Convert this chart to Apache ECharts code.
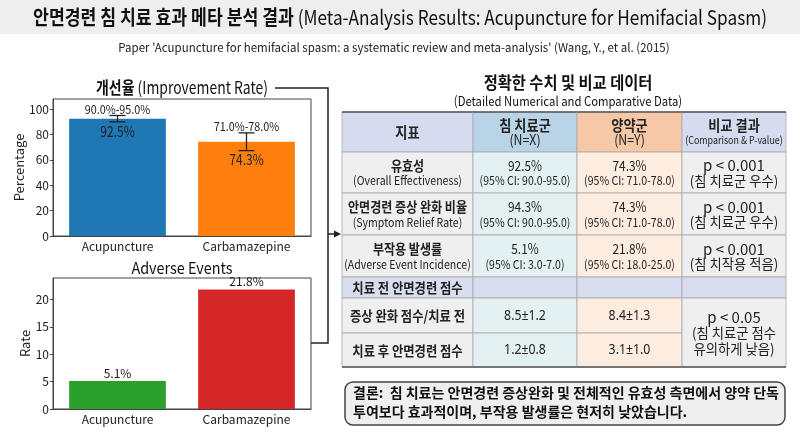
<!DOCTYPE html>
<html><head><meta charset="utf-8">
<script src="https://cdn.jsdelivr.net/npm/echarts@6/dist/echarts.min.js"></script>
<style>html,body{margin:0;padding:0;background:#fff}#c{width:800px;height:436px}</style>
</head><body><div id="c"></div>
<script>
const FONT = '"Noto Sans CJK KR", "Noto Sans", sans-serif';
const FONT_LATIN = '"Noto Sans", "Noto Sans CJK KR", sans-serif';

// ---- chart data ----
const categories = ['Acupuncture', 'Carbamazepine'];
const improvementRate = [92.5, 74.3];
const improvementErrLow = [90.0, 67.3];
const improvementErrHigh = [95.0, 81.3];
const improvementCILabels = ['90.0%-95.0%', '71.0%-78.0%'];
const adverseRate = [5.1, 21.8];
const improvementTicks = [0, 20, 40, 60, 80, 100];
const adverseTicks = [0, 5, 10, 15, 20];

// ---- table data ----
const tableHeaders = [['지표'], ['침 치료군', '(N=X)'], ['양약군', '(N=Y)'], ['비교 결과', '(Comparison & P-value)']];
const rowMetrics = [['유효성', '(Overall Effectiveness)'], ['안면경련 증상 완화 비율', '(Symptom Relief Rate)'], ['부작용 발생률', '(Adverse Event Incidence)']];
const acuValues = ['92.5%', '94.3%', '5.1%'];
const acuCI = ['(95% CI: 90.0-95.0)', '(95% CI: 90.0-95.0)', '(95% CI: 3.0-7.0)'];
const carbValues = ['74.3%', '74.3%', '21.8%'];
const carbCI = ['(95% CI: 71.0-78.0)', '(95% CI: 71.0-78.0)', '(95% CI: 18.0-25.0)'];
const pValues = ['p < 0.001', 'p < 0.001', 'p < 0.001'];
const pNotes = ['(침 치료군 우수)', '(침 치료군 우수)', '(침 치작용 적음)'];
const sectionTitle = '치료 전 안면경련 점수';
const scoreLabels = ['증상 완화 점수/치료 전', '치료 후 안면경련 점수'];
const acuScores = ['8.5±1.2', '1.2±0.8'];
const carbScores = ['8.4±1.3', '3.1±1.0'];
const scoreComparison = ['p < 0.05', '(침 치료군 점수', '유의하게 낮음)'];
const conclusionLines = ['결론:  침 치료는 안면경련 증상완화 및 전체적인 유효성 측면에서 양약 단독', '투여보다 효과적이며, 부작용 발생률은 현저히 낮았습니다.'];

// ---- table layout (axis units of the table grid) ----
const COL = [0, 131, 235, 340, 444];
const ROW = [0, 40, 81, 123, 165, 186, 221, 255];
const headFill = ['#d6dcef', '#b9d4e6', '#f6c8a8', '#d6dcef'];
const bodyFill = ['#efefef', '#e3f1f2', '#fdece0', '#efefef'];
const sectionFill = '#d8def0';

const T = (text, size, bold, scale, font) => ({text, size, bold: !!bold, scale: scale || 0.85, font: font || FONT});
const cells = [];
tableHeaders.forEach((h, c) => {
  cells.push({c, r0: 0, r1: 1, fill: headFill[c],
    lines: h.map((t, k) => k === 0 ? T(t, 15, true, 0.88) : (c === 3 ? T(t, 10.5) : T(t, 14, false, 0.88)))});
});
for (let i = 0; i < 3; i++) {
  cells.push({c: 0, r0: i + 1, r1: i + 2, fill: bodyFill[0], lines: [T(rowMetrics[i][0], 14, true, 0.86), T(rowMetrics[i][1], 12, false, 0.88)]});
  cells.push({c: 1, r0: i + 1, r1: i + 2, fill: bodyFill[1], lines: [T(acuValues[i], 14), T(acuCI[i], 12, false, 0.88)]});
  cells.push({c: 2, r0: i + 1, r1: i + 2, fill: bodyFill[2], lines: [T(carbValues[i], 14), T(carbCI[i], 12, false, 0.88)]});
  cells.push({c: 3, r0: i + 1, r1: i + 2, fill: bodyFill[3], lines: [T(pValues[i], 15, false, 1), T(pNotes[i], 14, false, 0.95)]});
}
cells.push({c: 0, r0: 4, r1: 5, fill: sectionFill, lines: [T(sectionTitle, 14, true, 0.88)]});
for (let c = 1; c < 4; c++) cells.push({c, r0: 4, r1: 5, fill: sectionFill, lines: []});
for (let j = 0; j < 2; j++) {
  cells.push({c: 0, r0: 5 + j, r1: 6 + j, fill: bodyFill[0], lines: [T(scoreLabels[j], 14, true, 0.88)]});
  cells.push({c: 1, r0: 5 + j, r1: 6 + j, fill: bodyFill[1], lines: [T(acuScores[j], 14, false, 0.88, FONT_LATIN)]});
  cells.push({c: 2, r0: 5 + j, r1: 6 + j, fill: bodyFill[2], lines: [T(carbScores[j], 14, false, 0.88, FONT_LATIN)]});
}
cells.push({c: 3, r0: 5, r1: 7, fill: bodyFill[3], lines: [T(scoreComparison[0], 15, false, 1), T(scoreComparison[1], 14, false, 0.95), T(scoreComparison[2], 14, false, 0.95)]});

const chart = echarts.init(document.getElementById('c'));

const axisText = {color: '#222', fontFamily: FONT, fontSize: 12};
const axisLine = {show: true, lineStyle: {color: '#444', width: 1}};

function txt(x, y, text, size, opts) {
  opts = opts || {};
  return {type: 'text', x, y, scaleX: opts.scaleX || 1, z: 10,
    style: {text, fontSize: size, fontWeight: opts.bold ? 'bold' : 'normal', fontFamily: FONT,
      fill: opts.color || '#222', align: opts.align || 'center', verticalAlign: 'middle', rich: opts.rich}};
}

const option = {
  animation: false,
  backgroundColor: '#fff',
  grid: [
    {left: 53, right: 489, top: 99, bottom: 200, show: true, borderColor: '#444', borderWidth: 1, backgroundColor: 'transparent'},
    {left: 53, right: 489, top: 278, bottom: 27, show: true, borderColor: '#444', borderWidth: 1, backgroundColor: 'transparent'},
    {left: 342, top: 112, width: 444, height: 255, show: false}
  ],
  xAxis: [
    {type: 'category', gridIndex: 0, data: categories, axisLine, axisTick: {alignWithLabel: true, length: 3, lineStyle: {color: '#444'}}, axisLabel: Object.assign({margin: 4}, axisText)},
    {type: 'category', gridIndex: 1, data: categories, axisLine, axisTick: {alignWithLabel: true, length: 3, lineStyle: {color: '#444'}}, axisLabel: Object.assign({margin: 4}, axisText)},
    {type: 'value', gridIndex: 2, min: 0, max: COL[COL.length - 1], show: false}
  ],
  yAxis: [
    {type: 'value', gridIndex: 0, min: 0, max: 108, splitLine: {show: false}, axisLine,
      axisTick: {show: true, length: 3, customValues: improvementTicks, lineStyle: {color: '#444'}},
      axisLabel: Object.assign({margin: 4, customValues: improvementTicks}, axisText),
      name: 'Percentage', nameLocation: 'middle', nameGap: 21, nameTextStyle: {fontFamily: FONT, fontSize: 13, color: '#222'}},
    {type: 'value', gridIndex: 1, min: 0, max: 23.9, splitLine: {show: false}, axisLine,
      axisTick: {show: true, length: 3, customValues: adverseTicks, lineStyle: {color: '#444'}},
      axisLabel: Object.assign({margin: 4, customValues: adverseTicks}, axisText),
      name: 'Rate', nameLocation: 'middle', nameGap: 15, nameTextStyle: {fontFamily: FONT, fontSize: 13, color: '#222'}},
    {type: 'value', gridIndex: 2, min: 0, max: ROW[ROW.length - 1], inverse: true, show: false}
  ],
  series: [
    {type: 'bar', xAxisIndex: 0, yAxisIndex: 0, barWidth: '75%',
      data: improvementRate.map((v, i) => ({value: v, itemStyle: {color: ['#1f77b4', '#ff7f0e'][i]}}))},
    {type: 'custom', xAxisIndex: 0, yAxisIndex: 0, z: 5,
      data: categories.map((c, i) => [i, improvementErrLow[i], improvementErrHigh[i]]),
      encode: {x: 0, y: [1, 2]},
      renderItem: function (params, api) {
        const i = params.dataIndex;
        const hi = api.coord([api.value(0), api.value(2)]);
        const lo = api.coord([api.value(0), api.value(1)]);
        const x = hi[0], cap = 8, st = {stroke: '#222', lineWidth: 1.3};
        return {type: 'group', children: [
          {type: 'line', shape: {x1: x, y1: hi[1], x2: x, y2: lo[1]}, style: st},
          {type: 'line', shape: {x1: x - cap, y1: hi[1], x2: x + cap, y2: hi[1]}, style: st},
          {type: 'line', shape: {x1: x - cap, y1: lo[1], x2: x + cap, y2: lo[1]}, style: st},
          {type: 'text', x: x, y: hi[1] - 6, scaleX: 0.9, style: {text: improvementCILabels[i], fontSize: 12, fontFamily: FONT, fill: '#222', align: 'center', verticalAlign: 'middle'}},
          {type: 'text', x: x, y: lo[1] + 9, scaleX: 0.8, style: {text: improvementRate[i].toFixed(1) + '%', fontSize: 15, fontFamily: FONT, fill: '#222', align: 'center', verticalAlign: 'middle'}}
        ]};
      }},
    {type: 'bar', xAxisIndex: 1, yAxisIndex: 1, barWidth: '75%',
      label: {show: true, position: 'top', distance: 2, formatter: '{c}%', fontSize: 12, fontFamily: FONT, color: '#222'},
      data: adverseRate.map((v, i) => ({value: v, itemStyle: {color: ['#2ca02c', '#d62728'][i]}}))},
    {type: 'custom', xAxisIndex: 2, yAxisIndex: 2, clip: false,
      data: cells.map((cell, k) => [COL[cell.c], ROW[cell.r0], COL[cell.c + 1], ROW[cell.r1], k]),
      encode: {x: [0, 2], y: [1, 3]},
      renderItem: function (params, api) {
        const cell = cells[params.dataIndex];
        const p0 = api.coord([api.value(0), api.value(1)]);
        const p1 = api.coord([api.value(2), api.value(3)]);
        const children = [{type: 'rect', shape: {x: p0[0], y: p0[1], width: p1[0] - p0[0], height: p1[1] - p0[1]},
          style: {fill: cell.fill, stroke: '#a8a8a8', lineWidth: 0.8}}];
        if (cell.r0 === 0) children.push({type: 'line', shape: {x1: p0[0], y1: p0[1], x2: p1[0], y2: p0[1]}, style: {stroke: '#555', lineWidth: 1.6}});
        if (cell.r1 === ROW.length - 1) children.push({type: 'line', shape: {x1: p0[0], y1: p1[1], x2: p1[0], y2: p1[1]}, style: {stroke: '#555', lineWidth: 1.6}});
        const n = cell.lines.length, gap = n === 3 ? 16 : 15;
        const cx = (p0[0] + p1[0]) / 2, cy = (p0[1] + p1[1]) / 2;
        cell.lines.forEach((ln, k) => {
          children.push({type: 'text', x: cx, y: cy + (k - (n - 1) / 2) * gap + 0.5, scaleX: ln.scale,
            style: {text: ln.text, fontSize: ln.size, fontWeight: ln.bold ? 'bold' : 'normal', fontFamily: ln.font, fill: '#222', align: 'center', verticalAlign: 'middle'}});
        });
        return {type: 'group', children};
      }}
  ],
  graphic: {elements: [
    {type: 'rect', shape: {x: 0, y: 0, width: 800, height: 34}, style: {fill: '#eeeeee'}, z: 1},
    txt(400, 17, '{k|안면경련 침 치료 효과 메타 분석 결과} {e|(Meta-Analysis Results: Acupuncture for Hemifacial Spasm)}', 20,
      {scaleX: 0.86, rich: {k: {fontSize: 20, fontWeight: 'bold', fontFamily: FONT, fill: '#111'}, e: {fontSize: 20, fontFamily: FONT, fill: '#111'}}}),
    txt(394, 47, "Paper 'Acupuncture for hemifacial spasm: a systematic review and meta-analysis' (Wang, Y., et al. (2015)", 12, {scaleX: 0.96}),
    txt(182, 88, '{k|개선율} {e|(Improvement Rate)}', 17, {scaleX: 0.82, rich: {k: {fontSize: 17, fontWeight: 'bold', fontFamily: FONT, fill: '#111'}, e: {fontSize: 17, fontFamily: FONT, fill: '#111'}}}),
    txt(182, 268, 'Adverse Events', 16, {scaleX: 0.9, color: '#111'}),
    txt(568, 83, '정확한 수치 및 비교 데이터', 17, {bold: true, scaleX: 0.9, color: '#111'}),
    txt(568, 101, '(Detailed Numerical and Comparative Data)', 13, {scaleX: 0.87, color: '#111'}),
    {type: 'polyline', shape: {points: [[275, 88], [328, 88], [328, 343], [311, 343]]}, style: {stroke: '#222', lineWidth: 1.5, fill: null}, z: 10},
    {type: 'line', shape: {x1: 328, y1: 234, x2: 336, y2: 234}, style: {stroke: '#222', lineWidth: 1.5}, z: 10},
    {type: 'polygon', shape: {points: [[341, 234], [334, 230.5], [334, 237.5]]}, style: {fill: '#222'}, z: 10},
    {type: 'rect', shape: {x: 345, y: 382, width: 440, height: 43, r: 8}, style: {fill: '#efefef', stroke: '#444', lineWidth: 1.5}, z: 5},
    txt(353, 393, conclusionLines[0], 14, {bold: true, align: 'left', scaleX: 1.0, color: '#111'}),
    txt(353, 412, conclusionLines[1], 14, {bold: true, align: 'left', scaleX: 1.0, color: '#111'})
  ]}
};
chart.setOption(option);
</script></body></html>
